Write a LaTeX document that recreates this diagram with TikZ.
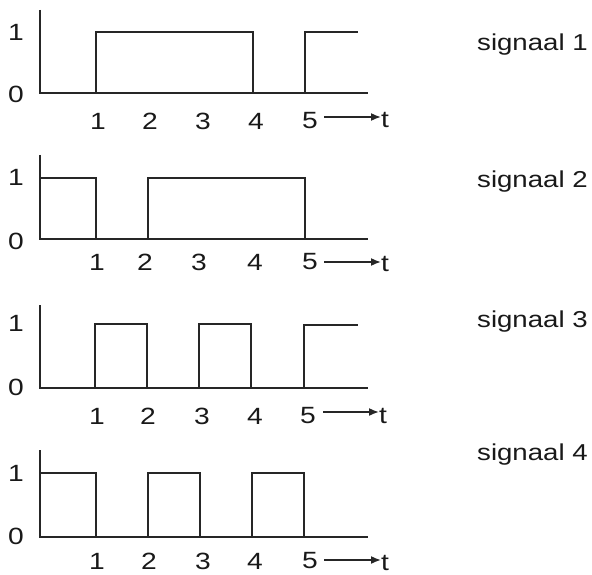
\documentclass[tikz,border=0pt]{standalone}
\usepackage{fontspec}
\setmainfont{Liberation Sans}[FakeStretch=1.2]
\usetikzlibrary{arrows.meta}
\begin{document}
\begin{tikzpicture}[x=1pt,y=-1pt,
  line/.style={line width=1.7pt,draw=black!85,line join=miter},
  axis/.style={line width=1.7pt,draw=black!85},
  lbl/.style={inner sep=0pt,font=\fontsize{23.5}{25}\selectfont,text=black!90},
  sig/.style={inner sep=0pt,anchor=base west,font=\fontsize{23}{25}\selectfont,text=black!90},
  tarrow/.style={line width=1.6pt,draw=black!85,-{Latex[length=10pt,width=8pt]}}]
\useasboundingbox (0,0) rectangle (592,575);
\fill[white] (0,0) rectangle (592,575);
% ---------------- panel 1 ----------------
\coordinate (a1top) at (40,10);
\coordinate (a1o) at (40,93);
\coordinate (a1end) at (368,93);
\draw[axis] (a1top) -- (a1o) -- (a1end);
\draw[line] (96,93) -- (96,32) -- (253,32) -- (253,93);
\draw[line] (305,93) -- (305,32) -- (358,32);
\node[lbl] (p1one) at (16,32) {1};
\node[lbl] (p1zero) at (16,94) {0};
\node[lbl] (p1t1) at (98,121) {1};
\node[lbl] (p1t2) at (150,121) {2};
\node[lbl] (p1t3) at (203,121) {3};
\node[lbl] (p1t4) at (256,121) {4};
\node[lbl] (p1t5) at (310,121) {5};
\coordinate (p1as) at (324,117);
\coordinate (p1ae) at (381,117);
\draw[tarrow] (p1as) -- (p1ae);
\node[lbl,anchor=west] (p1t) at (381,120) {t};
\node[sig] (s1) at (477,51) {signaal 1};
% ---------------- panel 2 ----------------
\coordinate (a2top) at (40,155);
\coordinate (a2o) at (40,239);
\coordinate (a2end) at (368,239);
\draw[axis] (a2top) -- (a2o) -- (a2end);
\draw[line] (40,178) -- (96,178) -- (96,239);
\draw[line] (148,239) -- (148,178) -- (305,178) -- (305,239);
\node[lbl] (p2one) at (16,177) {1};
\node[lbl] (p2zero) at (16,241) {0};
\node[lbl] (p2t1) at (97,262) {1};
\node[lbl] (p2t2) at (145,262) {2};
\node[lbl] (p2t3) at (199,262) {3};
\node[lbl] (p2t4) at (255,262) {4};
\node[lbl] (p2t5) at (310,262) {5};
\coordinate (p2as) at (324,262);
\coordinate (p2ae) at (381,262);
\draw[tarrow] (p2as) -- (p2ae);
\node[lbl,anchor=west] (p2t) at (381,264) {t};
\node[sig] (s2) at (477,188) {signaal 2};
% ---------------- panel 3 ----------------
\coordinate (a3top) at (40,305);
\coordinate (a3o) at (40,388);
\coordinate (a3end) at (368,388);
\draw[axis] (a3top) -- (a3o) -- (a3end);
\draw[line] (95,388) -- (95,324) -- (147,324) -- (147,388);
\draw[line] (199,388) -- (199,324) -- (251,324) -- (251,388);
\draw[line] (304,388) -- (304,325) -- (358,325);
\node[lbl] (p3one) at (16,323) {1};
\node[lbl] (p3zero) at (16,387) {0};
\node[lbl] (p3t1) at (97,416) {1};
\node[lbl] (p3t2) at (148,416) {2};
\node[lbl] (p3t3) at (202,416) {3};
\node[lbl] (p3t4) at (255,416) {4};
\node[lbl] (p3t5) at (308,416) {5};
\coordinate (p3as) at (323,412);
\coordinate (p3ae) at (379,412);
\draw[tarrow] (p3as) -- (p3ae);
\node[lbl,anchor=west] (p3t) at (379,416) {t};
\node[sig] (s3) at (477,327) {signaal 3};
% ---------------- panel 4 ----------------
\coordinate (a4top) at (40,450);
\coordinate (a4o) at (40,537);
\coordinate (a4end) at (368,537);
\draw[axis] (a4top) -- (a4o) -- (a4end);
\draw[line] (40,473) -- (96,473) -- (96,537);
\draw[line] (148,537) -- (148,473) -- (200,473) -- (200,537);
\draw[line] (252,537) -- (252,473) -- (304,473) -- (304,537);
\node[lbl] (p4one) at (16,473) {1};
\node[lbl] (p4zero) at (16,536) {0};
\node[lbl] (p4t1) at (97,561) {1};
\node[lbl] (p4t2) at (149,561) {2};
\node[lbl] (p4t3) at (203,561) {3};
\node[lbl] (p4t4) at (255,561) {4};
\node[lbl] (p4t5) at (310,561) {5};
\coordinate (p4as) at (324,560);
\coordinate (p4ae) at (381,560);
\draw[tarrow] (p4as) -- (p4ae);
\node[lbl,anchor=west] (p4t) at (381,563) {t};
\node[sig] (s4) at (477,460) {signaal 4};
\end{tikzpicture}
\end{document}
